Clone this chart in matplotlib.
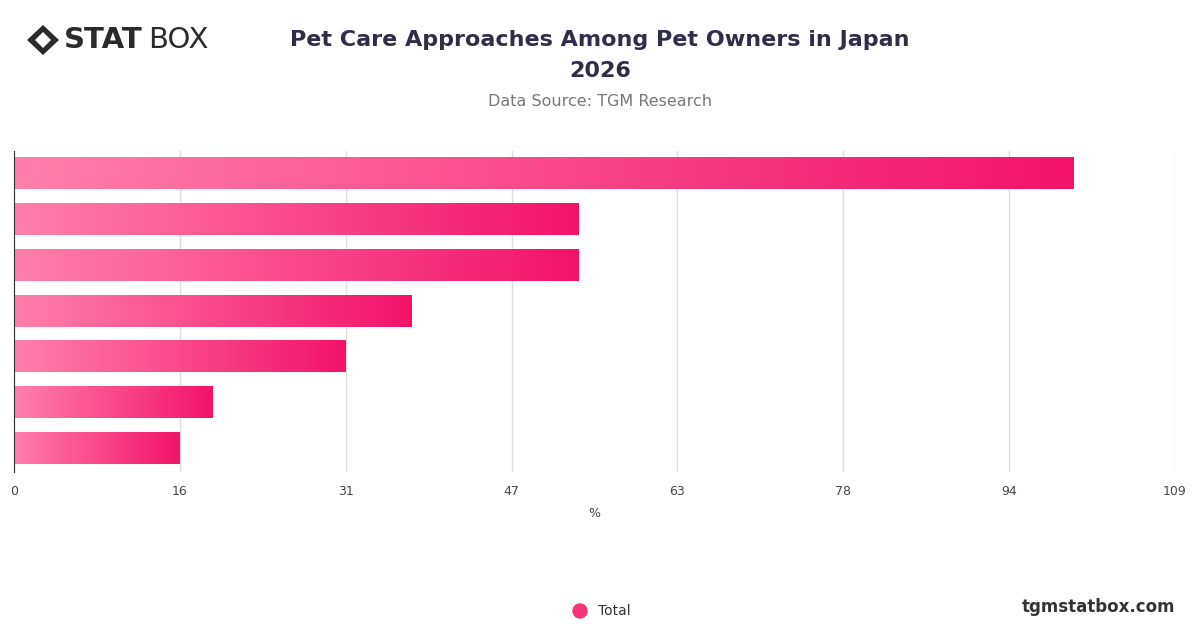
import matplotlib
matplotlib.use("Agg")
import matplotlib.pyplot as plt
import numpy as np
from matplotlib.colors import LinearSegmentedColormap
from matplotlib.patches import Polygon, Ellipse

categories = ["A", "B", "C", "D", "E", "F", "G"]
values = [99.5, 53, 53, 37.3, 31.1, 18.6, 15.5]
xmax = 109
tick_vals = [i * xmax / 7 for i in range(8)]
tick_labels = ["0", "16", "31", "47", "63", "78", "94", "109"]

fig = plt.figure(figsize=(12, 6.28), dpi=100)
ax = fig.add_axes([14/1200, 1-471.5/628, (1175-14)/1200, (471.5-150.5)/628])
cmap = LinearSegmentedColormap.from_list("g", ["#ff7fab", "#f3136a"])
n = len(values)
h = 0.68
grad = np.linspace(0, 1, 256).reshape(1, -1)
for i, v in enumerate(values):
    ax.imshow(grad, cmap=cmap, aspect="auto", extent=[0, v, i + h/2, i - h/2], zorder=2)
ax.set_xlim(0, xmax)
ax.set_ylim(n - 0.5, -0.5)
ax.set_xticks(tick_vals)
ax.set_xticklabels(tick_labels, fontsize=9, color="#444")
ax.set_yticks([])
ax.grid(axis="x", color="#dddddd", lw=1, zorder=0)
for s in ["top", "right", "bottom"]:
    ax.spines[s].set_visible(False)
ax.spines["left"].set_color("#333")
ax.tick_params(axis="x", length=0, pad=10)
ax.set_xlabel("%", fontsize=9, color="#444", labelpad=6)

fig.text(0.5, 1-40/628, "Pet Care Approaches Among Pet Owners in Japan", ha="center", va="center",
         fontsize=16, fontweight="bold", color="#2e2e4a")
fig.text(0.5, 1-71/628, "2026", ha="center", va="center", fontsize=16, fontweight="bold", color="#2e2e4a")
fig.text(0.5, 1-101/628, "Data Source: TGM Research", ha="center", va="center", fontsize=11.5, color="#777")

# logo
fig.patches.append(Polygon([(27/1200, 1-40/628), (43/1200, 1-25/628), (59/1200, 1-40/628), (43/1200, 1-55/628)],
                           closed=True, transform=fig.transFigure, facecolor="#2b2b2b"))
fig.patches.append(Polygon([(35/1200, 1-40/628), (43/1200, 1-32/628), (51/1200, 1-40/628), (43/1200, 1-48/628)],
                           closed=True, transform=fig.transFigure, facecolor="white"))
fig.text(64/1200, 1-40/628, "STAT", fontsize=21, fontweight="heavy", color="#2b2b2b", va="center")
fig.text(148/1200, 1-40/628, "BOX", fontsize=21, color="#2b2b2b", va="center")

fig.patches.append(Ellipse((580/1200, 1-611/628), 14/1200, 14/628, transform=fig.transFigure,
                           facecolor="#f5357a", edgecolor="#f5357a"))
fig.text(598/1200, 1-611/628, "Total", fontsize=10, color="#333", va="center")
fig.text(1175/1200, 1-607/628, "tgmstatbox.com", fontsize=12, fontweight="bold", color="#333", ha="right", va="center")

fig.savefig("out.png", dpi=100, facecolor="white")
